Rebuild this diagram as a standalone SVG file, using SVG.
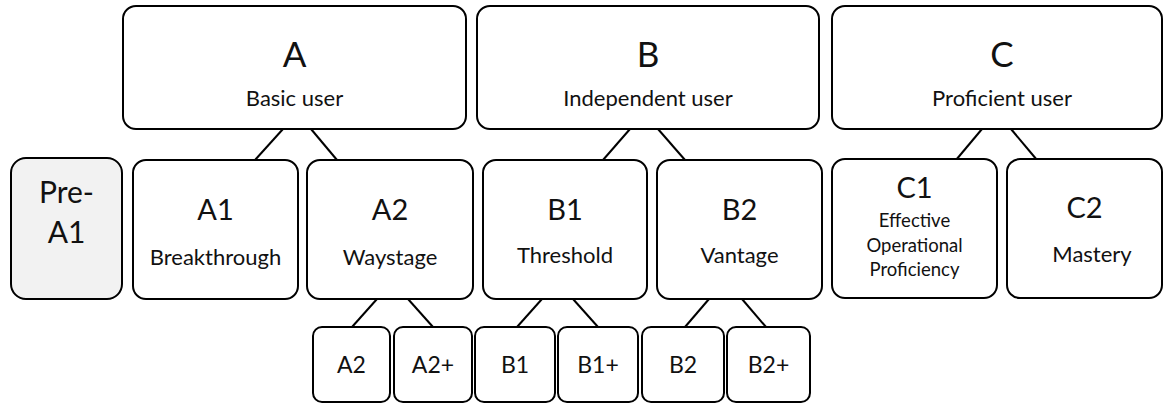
<svg xmlns="http://www.w3.org/2000/svg" width="1167" height="404" viewBox="0 0 1167 404">
<style>
.box{fill:#fff;stroke:#000;stroke-width:2}
.pre{fill:#f2f2f2;stroke:#000;stroke-width:2}
.conn line{stroke:#000;stroke-width:2}
text{font-family:Lato,"Liberation Sans",sans-serif;fill:#111;text-anchor:middle}
.big{font-size:35px}
.mid{font-size:29px}
.pa{font-size:30px}
.sub{font-size:22px}
.c1{font-size:18.5px}
.sm{font-size:23px}
</style>
<rect width="1167" height="404" fill="#fff"/>
<g class="conn">
<line x1="283" y1="129" x2="255" y2="160"/>
<line x1="311" y1="129" x2="337" y2="160"/>
<line x1="630" y1="129" x2="603" y2="160"/>
<line x1="658" y1="129" x2="685" y2="160"/>
<line x1="982" y1="129" x2="956" y2="160"/>
<line x1="1011" y1="129" x2="1037" y2="160"/>
<line x1="377" y1="299" x2="352" y2="327"/>
<line x1="408" y1="299" x2="433" y2="327"/>
<line x1="542" y1="299" x2="517" y2="327"/>
<line x1="573" y1="299" x2="598" y2="327"/>
<line x1="709" y1="299" x2="685" y2="327"/>
<line x1="742" y1="299" x2="766" y2="327"/>
</g>
<g id="A"><rect class="box" x="123" y="6" width="343" height="123" rx="13"/><text class="big" x="294.5" y="67">A</text><text class="sub" x="294.5" y="106">Basic user</text></g>
<g id="B"><rect class="box" x="477" y="6" width="342" height="123" rx="13"/><text class="big" x="648" y="67">B</text><text class="sub" x="648" y="106">Independent user</text></g>
<g id="C"><rect class="box" x="832" y="6" width="330" height="123" rx="13"/><text class="big" x="1002" y="67">C</text><text class="sub" x="1002" y="106">Proficient user</text></g>
<g id="PreA1"><rect class="pre" x="11" y="158" width="111" height="141" rx="15"/><text class="pa" x="66.5" y="203">Pre-</text><text class="pa" x="66.5" y="243">A1</text></g>
<g id="A1"><rect class="box" x="133" y="160" width="165" height="139" rx="13"/><text class="mid" x="215.5" y="220">A1</text><text class="sub" x="215.5" y="265">Breakthrough</text></g>
<g id="A2"><rect class="box" x="307" y="160" width="166" height="139" rx="13"/><text class="mid" x="390" y="220">A2</text><text class="sub" x="390" y="265">Waystage</text></g>
<g id="B1"><rect class="box" x="483" y="160" width="164" height="139" rx="13"/><text class="mid" x="565" y="220">B1</text><text class="sub" x="565" y="263">Threshold</text></g>
<g id="B2"><rect class="box" x="657" y="160" width="165" height="139" rx="13"/><text class="mid" x="739.5" y="220">B2</text><text class="sub" x="739.5" y="263">Vantage</text></g>
<g id="C1"><rect class="box" x="832" y="159" width="165" height="139" rx="13"/><text class="mid" x="914.5" y="198">C1</text><text class="c1" x="914.5" y="227">Effective</text><text class="c1" x="914.5" y="252">Operational</text><text class="c1" x="914.5" y="276">Proficiency</text></g>
<g id="C2"><rect class="box" x="1007" y="159" width="155" height="139" rx="13"/><text class="mid" x="1084.5" y="218">C2</text><text class="sub" x="1092" y="262">Mastery</text></g>
<g id="A2s"><rect class="box" x="313" y="327" width="77" height="75" rx="9"/><text class="sm" x="351.5" y="373">A2</text></g>
<g id="A2p"><rect class="box" x="394" y="327" width="78" height="75" rx="9"/><text class="sm" x="433" y="373">A2+</text></g>
<g id="B1s"><rect class="box" x="475" y="327" width="80" height="75" rx="9"/><text class="sm" x="515" y="373">B1</text></g>
<g id="B1p"><rect class="box" x="558" y="327" width="80" height="75" rx="9"/><text class="sm" x="598" y="373">B1+</text></g>
<g id="B2s"><rect class="box" x="642" y="327" width="82" height="75" rx="9"/><text class="sm" x="683" y="373">B2</text></g>
<g id="B2p"><rect class="box" x="727" y="327" width="83" height="75" rx="9"/><text class="sm" x="768.5" y="373">B2+</text></g>
</svg>
